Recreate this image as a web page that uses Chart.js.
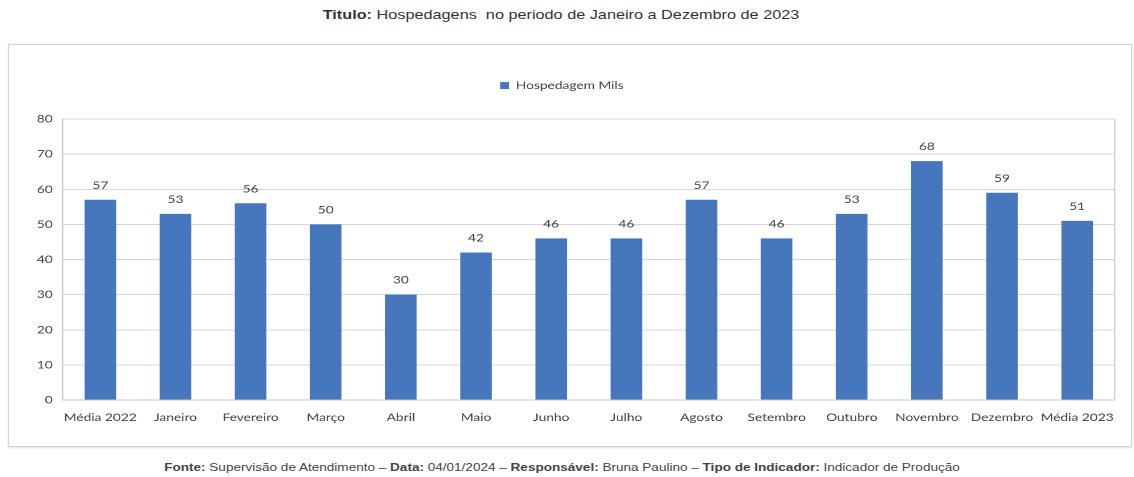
<!DOCTYPE html>
<html>
<head>
<meta charset="utf-8">
<script src="https://cdn.jsdelivr.net/npm/chart.js@4/dist/chart.umd.min.js"></script>
<style>
  body { margin:0; background:#fff; width:1134px; height:477px; position:relative; overflow:hidden; font-family:"Liberation Sans", Arial, sans-serif; }
  #titulo { position:absolute; left:-6px; top:7px; width:1134px; text-align:center; font-size:13px; color:#333; transform:scaleX(1.25); }
  #caixa { position:absolute; left:8px; top:44px; width:1122px; height:401px; border:1px solid #d4d4d4; box-shadow:0 1px 2px rgba(0,0,0,0.12); }
  #grafico { display:block; }
  #rodape { position:absolute; left:-5px; top:461px; width:1134px; text-align:center; font-size:10.5px; color:#444; transform:scaleX(1.29); }
</style>
</head>
<body>
<div id="titulo"><b>Titulo:</b> Hospedagens&nbsp; no periodo de Janeiro a Dezembro de 2023</div>
<div id="caixa"><canvas id="grafico" width="898" height="401" style="width:1122px;height:401px"></canvas></div>
<div id="rodape"><b>Fonte:</b> Supervisão de Atendimento – <b>Data:</b> 04/01/2024 – <b>Responsável:</b> Bruna Paulino – <b>Tipo de Indicador:</b> Indicador de Produção</div>
<script>
// meses + médias anuais
var categorias = ["Média 2022","Janeiro","Fevereiro","Março","Abril","Maio","Junho","Julho","Agosto","Setembro","Outubro","Novembro","Dezembro","Média 2023"];
var hospedagens = [57,53,56,50,30,42,46,46,57,46,53,68,59,51];
var ticksY = [0,10,20,30,40,50,60,70,80];

var corBarra = "#4677bd";
var corTexto = "#404040";
var fonte = 'Lato, "Liberation Sans", sans-serif';

// rotulo de valor em cima de cada barra
var rotulos = {
    id: 'rotulos',
    afterDatasetsDraw: function(chart){
        var ctx = chart.ctx;
        var meta = chart.getDatasetMeta(0);
        ctx.save();
        ctx.font = '11px ' + fonte;
        ctx.fillStyle = corTexto;
        ctx.textAlign = 'center';
        ctx.textBaseline = 'bottom';
        meta.data.forEach(function(bar, i){
            ctx.fillText(hospedagens[i], bar.x, bar.y - 9);
        });
        ctx.restore();
    }
};

// borda direita da area do grafico
var bordaArea = {
    id: 'bordaArea',
    afterDraw: function(chart){
        var a = chart.chartArea, ctx = chart.ctx;
        ctx.save();
        ctx.strokeStyle = '#c8d0d8';
        ctx.lineWidth = 1;
        ctx.beginPath();
        ctx.moveTo(a.right, a.top);
        ctx.lineTo(a.right, a.bottom);
        ctx.stroke();
        ctx.restore();
    }
};

// espaco extra entre a legenda e a area do grafico
var espacoLegenda = {
    id: 'espacoLegenda',
    beforeLayout: function(chart){
        var lg = chart.legend;
        if (lg && !lg._espaco) {
            var fit = lg.fit;
            lg.fit = function(){ fit.call(this); this.height += 18; };
            lg._espaco = true;
        }
    }
};

// canvas desenhado mais estreito e esticado na horizontal pelo css
new Chart(document.getElementById('grafico'), {
    type: 'bar',
    data: {
        labels: categorias,
        datasets: [{
            label: 'Hospedagem Mils',
            data: hospedagens,
            backgroundColor: corBarra,
            categoryPercentage: 1,
            barPercentage: 0.42
        }]
    },
    options: {
        responsive: false,
        animation: false,
        devicePixelRatio: 2,
        layout: { padding: { top: 4, right: 13, bottom: 16, left: 0 } },
        plugins: {
            legend: {
                display: true,
                position: 'top',
                labels: {
                    boxWidth: 7, boxHeight: 7, padding: 31,
                    color: corTexto,
                    font: { family: fonte, size: 11 }
                }
            },
            tooltip: { enabled: false }
        },
        scales: {
            x: {
                grid: { display: false, drawTicks: false },
                border: { color: '#c8c8c8' },
                ticks: { color: corTexto, padding: 11, maxRotation: 0, autoSkip: false, font: { family: fonte, size: 11 } },
                afterFit: function(s){ s.height = 30; }
            },
            y: {
                min: 0, max: 80,
                afterBuildTicks: function(s){ s.ticks = ticksY.map(function(v){ return {value: v}; }); },
                grid: { color: '#d6d6d6', drawTicks: false },
                border: { color: '#c8c8c8' },
                ticks: { color: corTexto, padding: 8, font: { family: fonte, size: 11 } },
                afterFit: function(s){ s.width = 43; }
            }
        }
    },
    plugins: [rotulos, bordaArea, espacoLegenda]
});
</script>
</body>
</html>
